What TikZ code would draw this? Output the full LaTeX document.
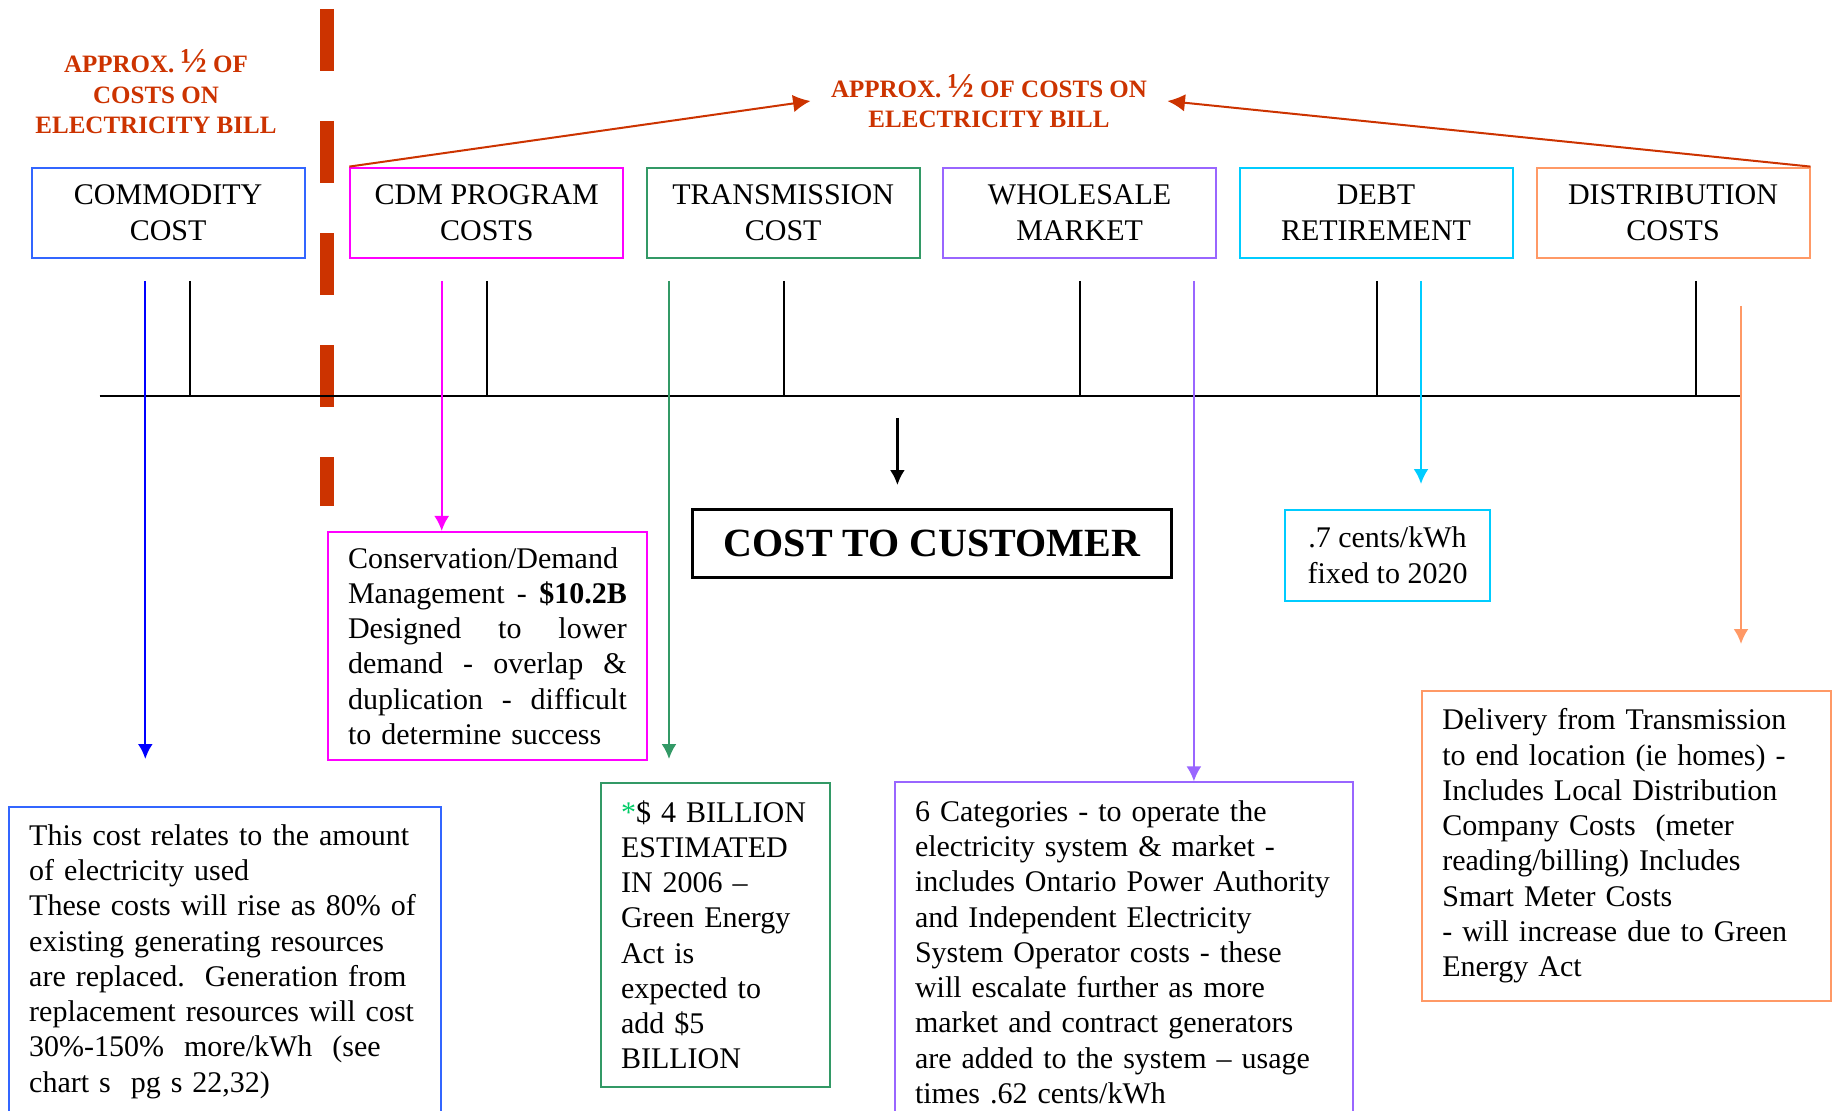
\documentclass[tikz,border=0pt]{standalone}
\usepackage{fontspec}
\setmainfont{Liberation Serif}
\usetikzlibrary{arrows.meta}
\definecolor{billred}{HTML}{CC3300}
\definecolor{comblue}{HTML}{3366FF}
\definecolor{cdmpink}{HTML}{FF00FF}
\definecolor{transgreen}{HTML}{339966}
\definecolor{wholepurple}{HTML}{9966FF}
\definecolor{debtcyan}{HTML}{00CCFF}
\definecolor{distorange}{HTML}{FF9966}
\definecolor{stargreen}{HTML}{00CC66}
\newcommand{\fillline}[1]{\makebox[111.5pt][l]{#1}}
\newcommand{\halfsign}{{\fontsize{14}{12}\selectfont ½}}

\begin{document}
\begin{tikzpicture}[x=0.4pt, y=-0.4pt, >={Latex[length=6pt,width=6pt]},
  head/.style={draw, line width=0.8pt, minimum width=109.2pt, minimum height=36pt, align=center, font=\fontsize{12}{14.1}\selectfont},
  note/.style={draw, line width=0.8pt, inner xsep=8pt, align=left, font=\fontsize{12}{14.1}\selectfont},
  half/.style={text=billred, align=center, font=\bfseries\fontsize{10}{12.2}\selectfont},
  feed/.style={line width=0.9pt, ->}]
\useasboundingbox (0,0) rectangle (1837,1111);

% split between commodity and the rest
\draw[billred, line width=5.6pt, dash pattern=on 24.8pt off 20pt] (327,9) -- (327,506);

\node[half] (halfleft) at (156,92) {APPROX. \halfsign\ OF\\COSTS ON\\ELECTRICITY BILL};
\node[half, inner xsep=8pt] (halfbill) at (989,101) {APPROX. \halfsign\ OF COSTS ON\\ELECTRICITY BILL};

% cost headings
\node[head, draw=comblue] (com) at (168.1,212.6) {COMMODITY\\COST};
\node[head, draw=cdmpink] (cdm) at (486.8,212.6) {CDM PROGRAM\\COSTS};
\node[head, draw=transgreen] (trans) at (783.2,212.6) {TRANSMISSION\\COST};
\node[head, draw=wholepurple] (whole) at (1079.6,212.6) {WHOLESALE\\MARKET};
\node[head, draw=debtcyan] (debt) at (1376,212.6) {DEBT\\RETIREMENT};
\node[head, draw=distorange] (dist) at (1673,212.6) {DISTRIBUTION\\COSTS};

\draw[billred, line width=0.8pt, ->, >={Latex[length=7pt,width=7pt]}] (cdm.north west) -- (halfbill.west);
\draw[billred, line width=0.8pt, ->, >={Latex[length=7pt,width=7pt]}] (dist.north east) -- (halfbill.east);

% time line
\draw[line width=1.1pt] (99.6,396) -- (1740,396);
\foreach \x in {190,487,784,1080,1377,1696}
  \draw[line width=0.7pt] (\x,281) -- (\x,396);

% details
\node[note, draw=comblue, anchor=north west, text width=156.9pt, inner ysep=7pt] (comnote) at (8.2,806)
  {This cost relates to the amount\\of electricity used\\These costs will rise as 80\% of\\existing generating resources\\are replaced.\ \ Generation from\\replacement resources will cost\\30\%-150\%\ \ more/kWh\ \ (see\\chart s\ \ pg s 22,32)\\ \mbox{}\\ \mbox{}};
\node[note, draw=cdmpink, text width=111.5pt, minimum height=91.2pt] (cdmnote) at (487.4,646)
  {\fillline{Conservation/Demand}\\\fillline{Management\hfill-\hfill\textbf{\$10.2B}}\\\fillline{Designed\hfill to\hfill lower}\\\fillline{demand\hfill -\hfill overlap\hfill \&}\\\fillline{duplication\hfill -\hfill difficult}\\to determine success};
\node[note, draw=transgreen, text width=75.4pt, minimum height=121.8pt] (transnote) at (715.3,934.8)
  {{\color{stargreen}*}\$ 4 BILLION\\ESTIMATED\\IN 2006 --\\Green Energy\\Act is\\expected to\\add \$5\\BILLION};
\node[draw, line width=1.4pt, minimum width=191.7pt, minimum height=27.2pt, font=\bfseries\fontsize{16}{18}\selectfont] (cust) at (932,543.6) {COST TO CUSTOMER};
\node[head, draw=debtcyan, minimum width=82pt, minimum height=36.6pt] (debtnote) at (1387.5,555.3) {.7 cents/kWh\\fixed to 2020};
\node[note, draw=wholepurple, anchor=north west, text width=167pt, inner ysep=7.3pt] (wholenote) at (894,781.4)
  {6 Categories - to operate the\\electricity system \& market -\\includes Ontario Power Authority\\and Independent Electricity\\System Operator costs - these\\will escalate further as more\\market and contract generators\\are added to the system -- usage\\times .62 cents/kWh\\ \mbox{}};
\node[note, draw=distorange, text width=147.5pt, minimum height=123.8pt] (distnote) at (1626.7,845.8)
  {Delivery from Transmission\\to end location (ie homes) -\\Includes Local Distribution\\Company Costs\ \ (meter\\reading/billing) Includes\\Smart Meter Costs\\- will increase due to Green\\Energy Act};

% feeds to the details
\coordinate (comA) at (145.3,281);
\coordinate (comB) at (145.3,759);
\coordinate (cdmA) at (441.7,281);
\coordinate (transA) at (669,281);
\coordinate (transB) at (669,759);
\coordinate (wholeA) at (1193.9,281);
\coordinate (debtA) at (1421,281);
\coordinate (debtB) at (1421,484);
\coordinate (distA) at (1741,305.8);
\coordinate (distB) at (1741,644);
\coordinate (custA) at (897.4,418);
\coordinate (custB) at (897.4,485);
\draw[feed, blue] (comA) -- (comB);
\draw[feed, cdmpink] (cdmA) -- (cdmA |- cdmnote.north);
\draw[feed, transgreen] (transA) -- (transB);
\draw[feed, wholepurple] (wholeA) -- (wholeA |- wholenote.north);
\draw[feed, debtcyan] (debtA) -- (debtB);
\draw[feed, distorange] (distA) -- (distB);
\draw[feed, black] (custA) -- (custB);
\end{tikzpicture}
\end{document}
